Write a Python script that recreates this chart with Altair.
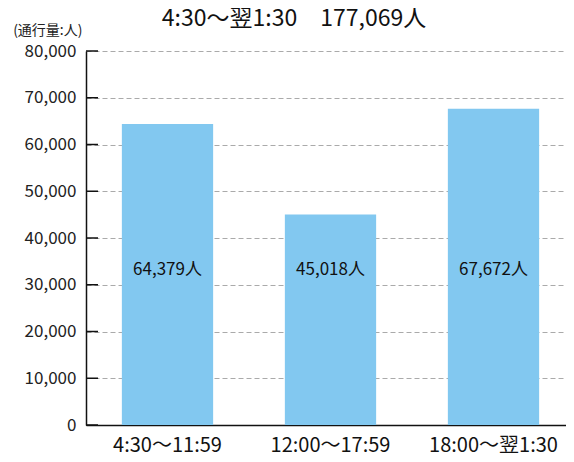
import altair as alt
import pandas as pd

categories = ["4:30〜11:59", "12:00〜17:59", "18:00〜翌1:30"]
values = [64379, 45018, 67672]
labels = ["64,379人", "45,018人", "67,672人"]
yticks = [0, 10000, 20000, 30000, 40000, 50000, 60000, 70000, 80000]
title_text = "4:30〜翌1:30　177,069人"
y_title = "(通行量:人)"

FONT = "Noto Sans CJK JP"

df = pd.DataFrame({"cat": categories, "val": values, "label": labels})
ticks_df = pd.DataFrame({"t": yticks})

xenc = alt.X("cat:N", sort=categories,
             scale=alt.Scale(paddingInner=0.44, paddingOuter=0.22, range=[0, 489]),
             axis=alt.Axis(title=None, labelAngle=0, ticks=False, labelFontSize=20,
                           labelColor="#111", labelFont=FONT, labelPadding=10,
                           domainColor="#111", domainWidth=1.5))
yscale = alt.Scale(domain=[0, 80000], nice=False)

bars = alt.Chart(df).mark_bar(color="#82C8F0").encode(
    x=xenc,
    y=alt.Y("val:Q", scale=yscale,
            axis=alt.Axis(values=yticks, format=",d", ticks=False, labelPadding=10,
                          labelFontSize=17, labelColor="#222", labelFont=FONT,
                          domainColor="#111", domainWidth=1.5,
                          grid=True, gridColor="#aaaaaa", gridDash=[5, 3], gridWidth=1,
                          title=y_title, titleAngle=0, titleAlign="right",
                          titleX=-4, titleY=-21, titleBaseline="middle",
                          titleFontSize=14, titleFontWeight="normal",
                          titleColor="#222", titleFont=FONT)),
)

text = alt.Chart(df).mark_text(fontSize=17, color="#111", font=FONT,
                               baseline="middle", align="center").encode(
    x=alt.X("cat:N", sort=categories),
    y=alt.value(219),
    text="label:N",
)

tickmarks = alt.Chart(ticks_df).mark_rule(color="#111", strokeWidth=1.5).encode(
    y=alt.Y("t:Q", scale=yscale),
    x=alt.value(0),
    x2=alt.value(12),
)

chart = alt.layer(bars, text, tickmarks).properties(
    width=480, height=374,
    title=alt.TitleParams(title_text, fontSize=23, font=FONT, fontWeight="normal",
                          color="#111", anchor="middle", frame="group", dx=-32,
                          offset=-8),
    autosize=alt.AutoSizeParams(type="none"),
    padding={"left": 78, "top": 43, "right": 0, "bottom": 37},
).configure_view(stroke=None)

chart.save("out.html", embed_options={"renderer": "svg", "actions": False})
